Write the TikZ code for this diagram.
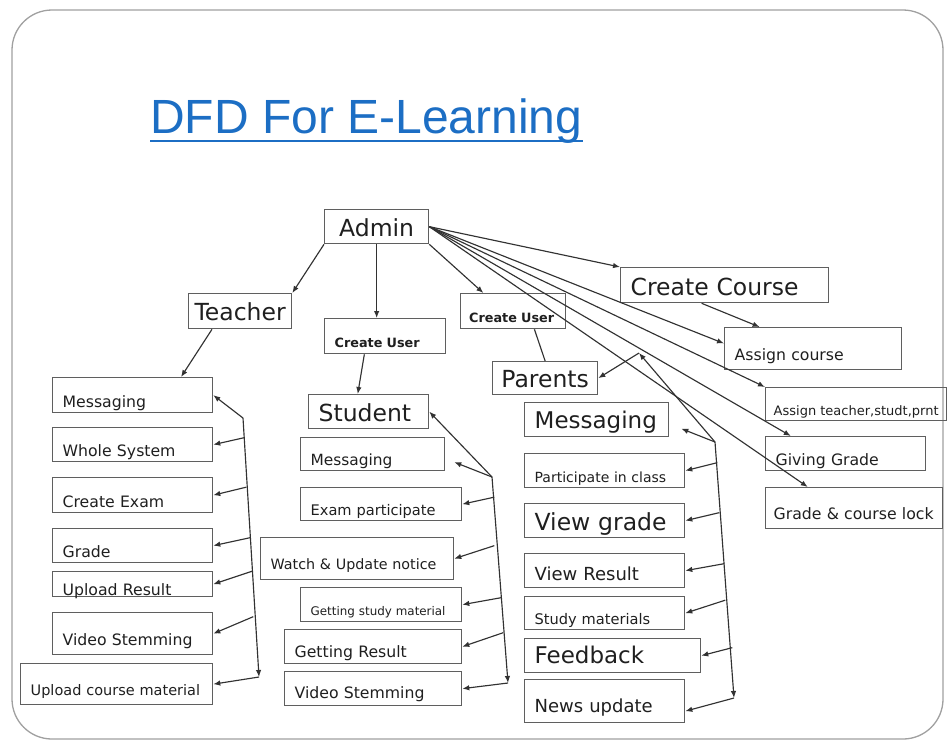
\documentclass[tikz,border=0pt]{standalone}
\usepackage{fontspec}
\setmainfont{DejaVu Sans}
\newfontfamily\titlefont{Liberation Sans}
\usetikzlibrary{calc,arrows.meta}
\definecolor{titleblue}{RGB}{28,110,196}
\definecolor{boxgray}{RGB}{95,95,95}
\definecolor{linegray}{RGB}{50,50,50}
\definecolor{framegray}{RGB}{160,160,160}
\hyphenpenalty=10000
\exhyphenpenalty=10000

\begin{document}
\begin{tikzpicture}[
    x=1pt, y=-1pt,
    >={Latex[length=7pt,width=5.5pt]},
    fs/.style={font=\fontsize{#1}{#1}\selectfont},
    hd/.style 2 args={text height=#1, text depth=#2},
    box/.style={ draw=boxgray,
      line width=1.3pt,
      anchor=north west,
      align=left,
      inner xsep=10pt,
      inner ysep=0pt,
      text=black!88,
      fs=15.7},
    big/.style={fs=23.5},
    cuser/.style={font=\bfseries\fontsize{12.8}{14}\selectfont},
    flow/.style={->, draw=linegray, line width=1.15pt},
    link/.style={draw=linegray, line width=1.15pt}]
    \useasboundingbox (0,0) rectangle (947,740);
    \draw[framegray, line width=1.3pt, rounded corners=40pt] (12,10) rectangle (943,739);

    % title
    \node[font=\titlefont\fontsize{48}{52}\selectfont, text=titleblue,
      anchor=base west, inner sep=0pt] (title) at (150,133) {DFD For E-Learning};
    \draw[titleblue, line width=2pt] ($(title.base west)+(0,8)$) -- ($(title.base east)+(0,8)$);

    % top level
    \node[box, big, align=center, minimum width=104pt, hd={27pt}{7pt}] (admin) at (324,209) {Admin};
    \node[box, big, align=center, minimum width=103pt, inner xsep=4pt, hd={27pt}{8pt}] (teacher) at (188,293) {Teacher};
    \node[box, cuser, text width=101pt, hd={29pt}{6pt}] (cus) at (324,318) {Create User};
    \node[box, cuser, text width=88pt, inner xsep=8.5pt, hd={29pt}{6pt}] (cup) at (460,293) {Create User};
    \node[box, big, align=center, minimum width=105pt, inner xsep=4pt, hd={26pt}{7pt}] (parents) at (492,361) {Parents};
    \node[box, big, text width=188pt, hd={28pt}{7pt}] (ccourse) at (620,267) {Create Course};
    \node[box, text width=157pt, hd={33pt}{9pt}] (acourse) at (724,327) {Assign course};
    \node[box, fs=13, align=center, minimum width=181pt, inner xsep=4pt, hd={28pt}{5pt}] (ateach) at (765,387) {Assign teacher,studt,prnt};
    \node[box, text width=140pt, hd={29pt}{5pt}] (giving) at (765,436) {Giving Grade};
    \node[box, text width=161pt, inner xsep=8pt, hd={32pt}{9pt}] (glock) at (765,487) {Grade \& course lock};

    % teacher column
    \node[box, text width=140pt, hd={30pt}{5pt}] (tmsg) at (52,377) {Messaging};
    \node[box, text width=140pt, hd={29pt}{5pt}] (twhole) at (52,427) {Whole System};
    \node[box, text width=140pt, hd={30pt}{5pt}] (texam) at (52,477) {Create Exam};
    \node[box, text width=140pt, hd={29pt}{5pt}] (tgrade) at (52,528) {Grade};
    \node[box, text width=140pt, hd={24pt}{1pt}] (tres) at (52,571) {Upload Result};
    \node[box, text width=140pt, hd={33pt}{9pt}] (tvid) at (52,612) {Video Stemming};
    \node[box, fs=14.5, text width=172pt, hd={32pt}{9pt}] (tupl) at (20,663) {Upload course material};

    % student column
    \node[box, big, text width=100pt, hd={27pt}{7pt}] (stu) at (308,394) {Student};
    \node[box, fs=15.4, text width=124pt, hd={28pt}{5pt}] (smsg) at (300,437) {Messaging};
    \node[box, fs=14.6, text width=141pt, hd={28pt}{5pt}] (sexam) at (300,487) {Exam participate};
    \node[box, fs=14.3, text width=173pt, hd={32pt}{10pt}] (swatch) at (260,537) {Watch \& Update notice};
    \node[box, fs=11.9, text width=141pt, hd={28pt}{6pt}] (sstudy) at (300,587) {Getting study material};
    \node[box, text width=157pt, hd={28pt}{6pt}] (sres) at (284,629) {Getting Result};
    \node[box, text width=157pt, hd={27pt}{7pt}] (svid) at (284,671) {Video Stemming};

    % parents column
    \node[box, fs=23, text width=124pt, hd={26pt}{8pt}] (pmsg) at (524,402) {Messaging};
    \node[box, fs=14, text width=140pt, hd={29pt}{5pt}] (ppart) at (524,453) {Participate in class};
    \node[box, big, text width=140pt, hd={27pt}{7pt}] (pgrade) at (524,503) {View grade};
    \node[box, fs=18, text width=140pt, hd={27pt}{7pt}] (pres) at (524,553) {View Result};
    \node[box, fs=14.6, text width=140pt, hd={28pt}{5pt}] (pstudy) at (524,596) {Study materials};
    \node[box, fs=23, text width=156pt, hd={25pt}{9pt}] (pfeed) at (524,638) {Feedback};
    \node[box, fs=18, text width=140pt, hd={33pt}{10pt}] (pnews) at (524,679) {News update};

    % admin flows
    \draw[flow] (admin.south west) -- (teacher.north east);
    \draw[flow] (admin.south) -- (admin.south |- cus.north);
    \draw[flow] (admin.south east) -- ($(cup.north west)!0.22!(cup.north east)$);
    \draw[flow] (admin.east) -- (ccourse.north west);
    \draw[flow] (admin.east) -- ($(acourse.north west)!0.38!(acourse.south west)$);
    \draw[flow] (admin.east) -- (ateach.north west);
    \draw[flow] (admin.east) -- ($(giving.north west)!0.16!(giving.north east)$);
    \draw[flow] (admin.east) -- ($(glock.north west)!0.24!(glock.north east)$);
    \draw[flow] ($(ccourse.south west)!0.39!(ccourse.south east)$) -- ($(acourse.north west)!0.2!(acourse.north east)$);
    \draw[flow] ($(teacher.south west)!0.23!(teacher.south east)$) -- ($(tmsg.north west)!0.8!(tmsg.north east)$);
    \draw[flow] ($(cus.south west)!0.33!(cus.south east)$) -- ($(stu.north west)!0.41!(stu.north east)$);
    \draw[link] ($(cup.south west)!0.7!(cup.south east)$) -- (parents.north);

    % teacher bracket
    \coordinate (tbend) at (243,418);
    \coordinate (tend) at (259,677);
    \draw[flow] (tbend) -- (tmsg.east);
    \draw[flow] (tbend) -- (tend);
    \draw[flow] (tend) -- (tupl.east);
    \foreach \b/\dx/\dy in {twhole/31/-7, texam/33/-8, tgrade/37/-8, tres/39/-13, tvid/40/-17}
      \draw[flow] ($(\b.east)+(\dx,\dy)$) -- (\b.east);

    % student bracket
    \coordinate (sbend) at (492,477);
    \coordinate (send) at (508,683);
    \coordinate (smtip) at ($(smsg.east)+(9,8)$);
    \draw[flow] (sbend) -- (stu.east);
    \draw[flow] (sbend) -- (smtip);
    \draw[flow] (sbend) -- (send);
    \draw[flow] (send) -- (svid.east);
    \foreach \b/\dx/\dy in {sexam/32/-7, swatch/40/-13, sstudy/39/-7, sres/41/-14}
      \draw[flow] ($(\b.east)+(\dx,\dy)$) -- (\b.east);

    % parents bracket
    \coordinate (pbend) at (715,442);
    \coordinate (pend) at (734,698);
    \coordinate (ptop) at (639,353);
    \coordinate (pmtip) at ($(pmsg.east)+(12,9)$);
    \draw[flow] (pbend) -- (ptop);
    \draw[flow] (ptop) -- (parents.east);
    \draw[flow] (pbend) -- (pmtip);
    \draw[flow] (pbend) -- (pend);
    \draw[flow] (pend) -- ($(pnews.east)+(0,10)$);
    \foreach \b/\dx/\dy in {ppart/32/-8, pgrade/34/-8, pres/39/-7, pstudy/40/-13, pfeed/31/-8}
      \draw[flow] ($(\b.east)+(\dx,\dy)$) -- (\b.east);
   \end{tikzpicture}
\end{document}
